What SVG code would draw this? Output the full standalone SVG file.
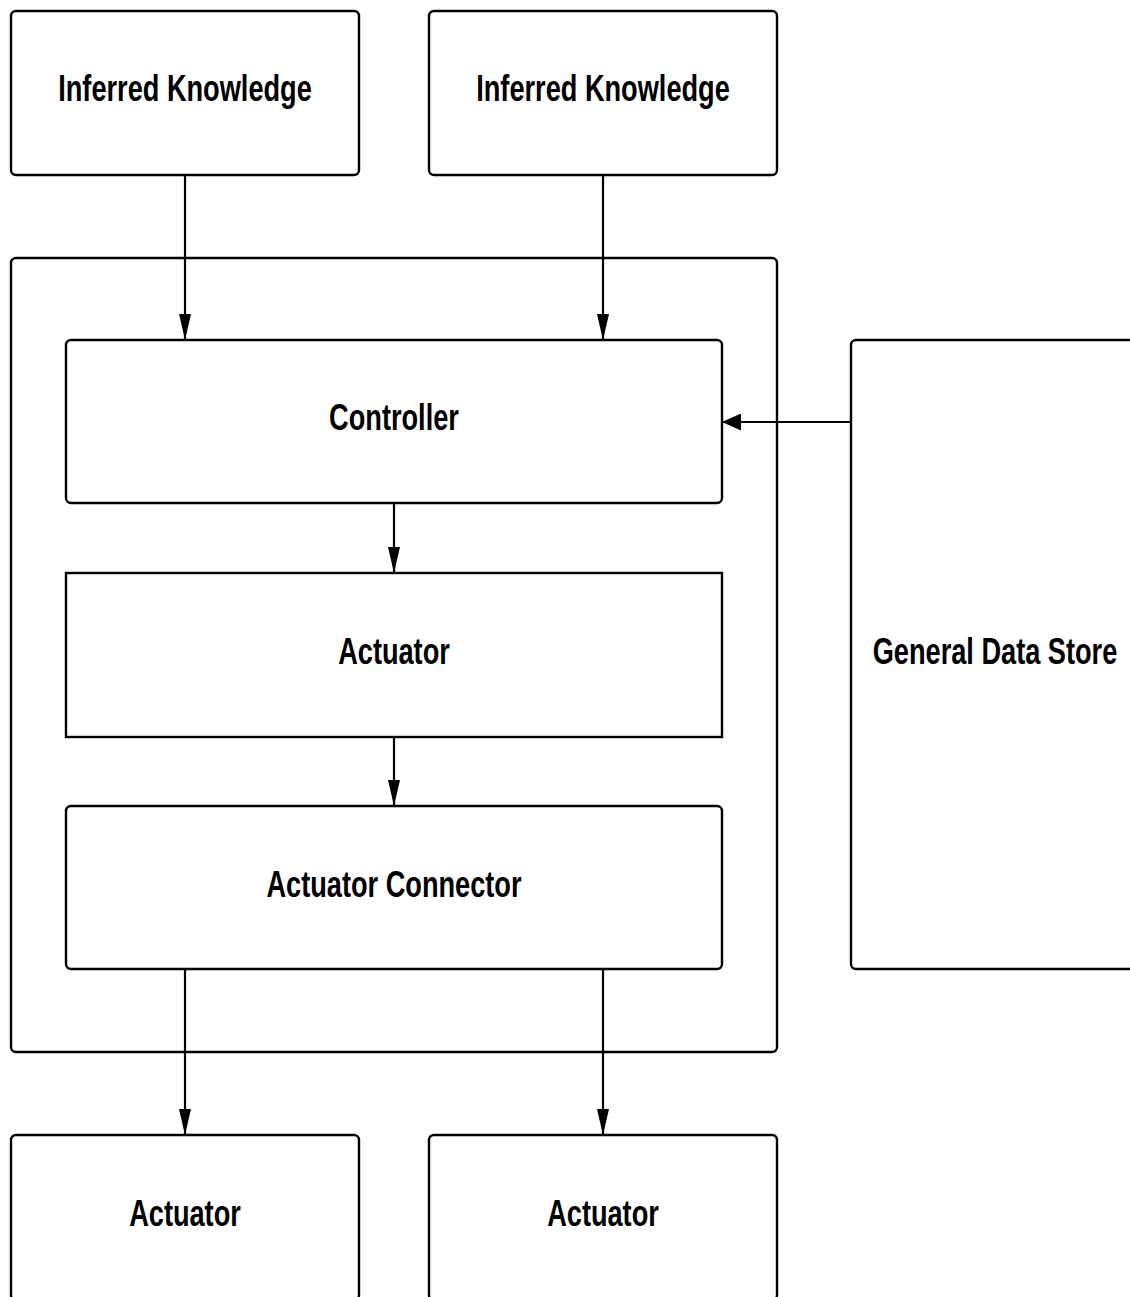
<svg xmlns="http://www.w3.org/2000/svg" width="1130" height="1297" viewBox="0 0 1130 1297">
  <style>
    .box { fill: #ffffff; stroke: #000000; stroke-width: 2.4; }
    .label { font-family: "Liberation Sans", Arial, sans-serif; font-weight: bold; font-size: 36px; fill: #000000; text-anchor: middle; }
    .edge { fill: none; stroke: #000000; stroke-width: 2.2; }
  </style>
  <defs>
    <marker id="arrow-v" markerUnits="userSpaceOnUse" markerWidth="26" markerHeight="12" refX="26" refY="6" orient="auto">
      <path d="M0,0 L26,6 L0,12 Z" fill="#000000"/>
    </marker>
    <marker id="arrow-h" markerUnits="userSpaceOnUse" markerWidth="19" markerHeight="17" refX="19" refY="8.5" orient="auto">
      <path d="M0,0 L19,8.5 L0,17 Z" fill="#000000"/>
    </marker>
  </defs>
  <rect width="1130" height="1297" fill="#ffffff"/>

  <!-- outer container -->
  <g id="container">
    <rect class="box" x="11" y="258" width="766" height="794" rx="5" ry="5"/>
  </g>

  <g id="inferred-knowledge-1">
    <rect class="box" x="11" y="11" width="348" height="164" rx="5" ry="5"/>
    <text class="label" transform="translate(185,101) scale(0.755,1)">Inferred Knowledge</text>
  </g>
  <g id="inferred-knowledge-2">
    <rect class="box" x="429" y="11" width="348" height="164" rx="5" ry="5"/>
    <text class="label" transform="translate(603,101) scale(0.755,1)">Inferred Knowledge</text>
  </g>

  <g id="controller">
    <rect class="box" x="66" y="340" width="656" height="163" rx="5" ry="5"/>
    <text class="label" transform="translate(394,430) scale(0.755,1)">Controller</text>
  </g>
  <g id="actuator-inner">
    <rect class="box" x="66" y="573" width="656" height="164"/>
    <text class="label" transform="translate(394,664) scale(0.755,1)">Actuator</text>
  </g>
  <g id="actuator-connector">
    <rect class="box" x="66" y="806" width="656" height="163" rx="5" ry="5"/>
    <text class="label" transform="translate(394,897) scale(0.755,1)">Actuator Connector</text>
  </g>

  <g id="general-data-store">
    <rect class="box" x="851" y="340" width="290" height="629" rx="5" ry="5"/>
    <text class="label" transform="translate(995,664) scale(0.755,1)">General Data Store</text>
  </g>

  <g id="actuator-out-1">
    <rect class="box" x="11" y="1135" width="348" height="165" rx="5" ry="5"/>
    <text class="label" transform="translate(185,1226) scale(0.755,1)">Actuator</text>
  </g>
  <g id="actuator-out-2">
    <rect class="box" x="429" y="1135" width="348" height="165" rx="5" ry="5"/>
    <text class="label" transform="translate(603,1226) scale(0.755,1)">Actuator</text>
  </g>

  <g id="connectors">
    <path class="edge" d="M185,175 L185,340" marker-end="url(#arrow-v)"/>
    <path class="edge" d="M603,175 L603,340" marker-end="url(#arrow-v)"/>
    <path class="edge" d="M851,422 L722,422" marker-end="url(#arrow-h)"/>
    <path class="edge" d="M394,503 L394,573" marker-end="url(#arrow-v)"/>
    <path class="edge" d="M394,737 L394,806" marker-end="url(#arrow-v)"/>
    <path class="edge" d="M185,969 L185,1135" marker-end="url(#arrow-v)"/>
    <path class="edge" d="M603,969 L603,1135" marker-end="url(#arrow-v)"/>
  </g>
</svg>
